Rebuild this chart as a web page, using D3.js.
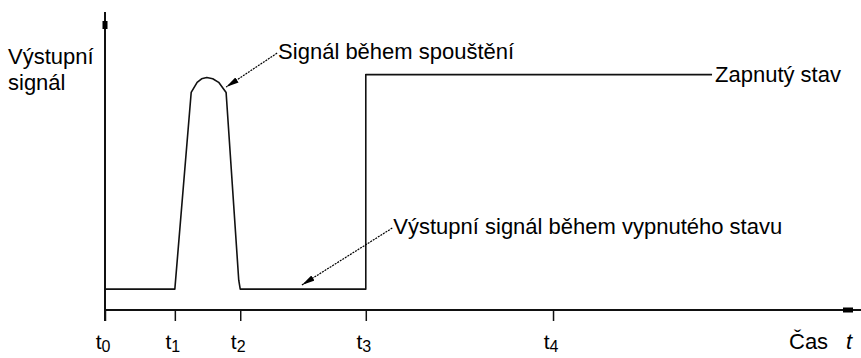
<!DOCTYPE html>
<html>
<head>
<meta charset="utf-8">
<script src="https://cdn.jsdelivr.net/npm/d3@7"></script>
<style>
  html, body { margin: 0; padding: 0; background: #fff; }
  svg { display: block; }
  text { font-family: "Liberation Sans", Arial, sans-serif; fill: #000; }
</style>
</head>
<body>
<svg id="chart" width="861" height="358"></svg>
<script>
// Time markers on the horizontal axis (time units)
const tickValues = [0, 9.4, 18.2, 35.1, 60.3];
const tickLabels = ["0", "1", "2", "3", "4"];

// Output signal: off level, start-up pulse, off level, then switched on
const signalTime  = [0, 9.4, 11.6, 12.4, 13.0, 13.7, 14.5, 15.3, 16.3, 18.0, 18.2, 35.1, 35.1, 81.7];
const signalValue = [7, 7,   73,   76.4, 77.6, 78.0, 77.6, 76.4, 73,   10,   7,    7,    79,   79];

// Callouts: text position and arrow target (data units)
const calloutText   = ["Signál během spouštění", "Výstupní signál během vypnutého stavu"];
const calloutTextX  = [23.3, 38.8];
const calloutTextY  = [86.2, 27.5];
const calloutArrowX = [16.3, 26.5];
const calloutArrowY = [74.8, 8.4];

const onLabel = "Zapnutý stav";
const yLabel = ["Výstupní", "signál"];
const xLabel = "Čas";

const svg = d3.select("#chart");
const x = d3.scaleLinear().domain([0, 100]).range([105, 848]);
const y = d3.scaleLinear().domain([0, 100]).range([310, 12]);

// Arrowhead marker for the callout leaders
svg.append("defs").append("marker")
  .attr("id", "arrow")
  .attr("viewBox", "0 0 13 7")
  .attr("refX", 13).attr("refY", 3.5)
  .attr("markerWidth", 13).attr("markerHeight", 7)
  .attr("markerUnits", "userSpaceOnUse")
  .attr("orient", "auto")
  .append("path").attr("d", "M0,0.5 L13,3.5 L0,6.5 Z").attr("fill", "#000");

// Vertical axis
svg.append("line")
  .attr("x1", x(0)).attr("x2", x(0))
  .attr("y1", y(100)).attr("y2", y(0) + 11)
  .attr("stroke", "#111").attr("stroke-width", 2);
svg.append("rect")
  .attr("x", x(0) - 2.5).attr("y", y(100) + 9)
  .attr("width", 5).attr("height", 8).attr("fill", "#000");

// Horizontal axis with time ticks
svg.append("line")
  .attr("x1", x(0)).attr("x2", 861)
  .attr("y1", y(0)).attr("y2", y(0))
  .attr("stroke", "#111").attr("stroke-width", 2);
svg.append("rect")
  .attr("x", x(100) - 5).attr("y", y(0) - 2.5)
  .attr("width", 10).attr("height", 5).attr("fill", "#000");

const axis = d3.axisBottom(x).tickValues(tickValues).tickSize(11).tickFormat("");
const gAxis = svg.append("g").attr("transform", `translate(0,${y(0)})`).call(axis);
gAxis.select(".domain").remove();
gAxis.selectAll(".tick line").attr("stroke", "#111").attr("stroke-width", 1.5);

const tickText = svg.append("g").selectAll("text")
  .data(tickValues)
  .join("text")
  .attr("x", d => x(d) - 2)
  .attr("y", 349)
  .attr("text-anchor", "middle")
  .style("font-size", "21px");
tickText.append("tspan").text("t");
tickText.append("tspan")
  .attr("dy", 3)
  .style("font-size", "16px")
  .text((d, i) => tickLabels[i]);

// Signal trace
const pts = signalTime.map((t, i) => [t, signalValue[i]]);
svg.append("path")
  .datum(pts)
  .attr("fill", "none")
  .attr("stroke", "#111")
  .attr("stroke-width", 1.6)
  .attr("stroke-linejoin", "round")
  .attr("d", d3.line().x(d => x(d[0])).y(d => y(d[1])));

// Label at the end of the on-state line
const last = pts[pts.length - 1];
svg.append("text")
  .attr("x", x(last[0]) + 3)
  .attr("y", y(last[1]) + 7)
  .style("font-size", "22px")
  .text(onLabel);

// Callouts with dashed leaders
calloutText.forEach((txt, i) => {
  svg.append("line")
    .attr("x1", x(calloutTextX[i]) - 1).attr("y1", y(calloutTextY[i]))
    .attr("x2", x(calloutArrowX[i])).attr("y2", y(calloutArrowY[i]))
    .attr("stroke", "#000").attr("stroke-width", 1.2)
    .attr("stroke-dasharray", "2,1")
    .attr("marker-end", "url(#arrow)");
  svg.append("text")
    .attr("x", x(calloutTextX[i]))
    .attr("y", y(calloutTextY[i]) + 6)
    .style("font-size", "22px")
    .text(txt);
});

// Axis titles
svg.append("g").selectAll("text")
  .data(yLabel)
  .join("text")
  .attr("x", 8)
  .attr("y", (d, i) => 64 + i * 26)
  .style("font-size", "22px")
  .text(d => d);

svg.append("text")
  .attr("x", 789).attr("y", 349)
  .style("font-size", "22px")
  .text(xLabel);
svg.append("text")
  .attr("x", 846).attr("y", 349)
  .style("font-size", "22px")
  .style("font-style", "italic")
  .text("t");
</script>
</body>
</html>
